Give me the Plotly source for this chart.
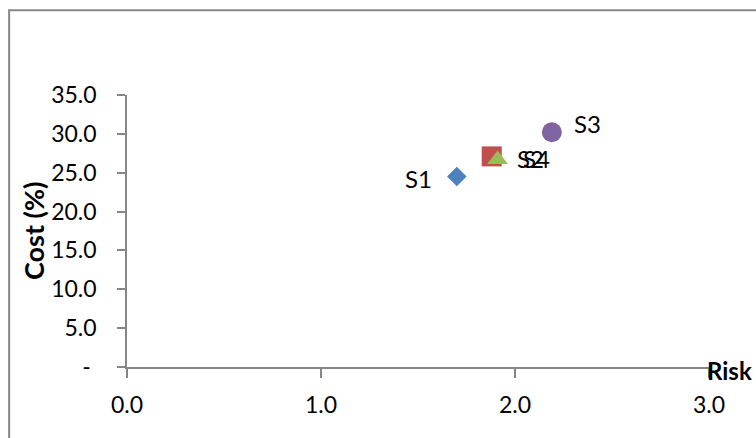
import plotly.graph_objects as go

# Strategy scores: risk (x) against cost in percent (y)
names = ["S1", "S2", "S3", "S4"]
risk = [1.70, 1.88, 2.19, 1.91]
cost = [24.5, 27.1, 30.2, 26.7]
colors = ["#4F81BD", "#C0504D", "#8064A2", "#9BBB59"]
symbols = ["diamond", "square", "circle", "triangle-up"]
sizes = [15, 20, 20, 18]

x_ticks = [0, 1, 2, 3]
x_tick_text = ["0.0", "1.0", "2.0", "3.0"]
y_ticks = [0, 5, 10, 15, 20, 25, 30, 35]
y_tick_text = ["-\u00a0", "5.0", "10.0", "15.0", "20.0", "25.0", "30.0", "35.0"]

# label placement per point: (anchor, x shift px, y shift px)
label_pos = {
    "S1": ("right", -23, -2),
    "S2": ("left", 23, -2),
    "S3": ("left", 20, 9),
    "S4": ("left", 23, 1),
}

FONT = "Lato"
AXIS = "#868686"

fig = go.Figure()
for n, xv, yv, c, s, sz in zip(names, risk, cost, colors, symbols, sizes):
    fig.add_trace(go.Scatter(
        x=[xv], y=[yv], mode="markers", name=n,
        marker=dict(symbol=s, size=sz, color=c, line=dict(width=0)),
        hoverinfo="x+y+name",
    ))
    anchor, dx, dy = label_pos[n]
    fig.add_annotation(
        x=xv, y=yv, xref="x", yref="y", text=n, showarrow=False,
        xanchor=anchor, yanchor="middle", xshift=dx, yshift=dy,
        font=dict(family=FONT, size=24, color="#000000"),
    )

fig.add_annotation(
    x=1, y=0, xref="paper", yref="paper", text="<b>Risk</b>", showarrow=False,
    xanchor="left", yanchor="middle", xshift=-4, yshift=-3,
    font=dict(family=FONT, size=24, color="#000000"),
)
fig.add_annotation(
    x=0, y=0.5, xref="paper", yref="paper", text="<b>Cost (%)</b>", showarrow=False,
    textangle=-90, xanchor="center", yanchor="middle", xshift=-94,
    font=dict(family=FONT, size=27, color="#000000"),
)

# outer chart frame
fig.add_shape(
    type="rect", xref="paper", yref="paper",
    x0=-0.2025, x1=1.12, y0=-0.35, y1=1.312,
    line=dict(color=AXIS, width=2), fillcolor="rgba(0,0,0,0)", layer="above",
)

fig.update_layout(
    width=756, height=438, autosize=False,
    margin=dict(l=127, r=47, t=95, b=71),
    paper_bgcolor="white", plot_bgcolor="white",
    showlegend=False,
    font=dict(family=FONT, size=23, color="#000000"),
)
fig.update_xaxes(
    range=[0, 3], tickvals=x_ticks, ticktext=x_tick_text,
    showgrid=False, zeroline=False, showline=True, linecolor=AXIS, linewidth=1.5,
    ticks="outside", ticklen=9, tickcolor=AXIS, tickwidth=1.5,
    ticklabelstandoff=8, tickfont=dict(family=FONT, size=23, color="#000000"),
)
fig.update_yaxes(
    range=[0, 35], tickvals=y_ticks, ticktext=y_tick_text,
    showgrid=False, zeroline=False, showline=True, linecolor=AXIS, linewidth=1.5,
    ticks="outside", ticklen=8, tickcolor=AXIS, tickwidth=1.5,
    ticklabelstandoff=16, tickfont=dict(family=FONT, size=23, color="#000000"),
)

fig.write_html("out.html")
